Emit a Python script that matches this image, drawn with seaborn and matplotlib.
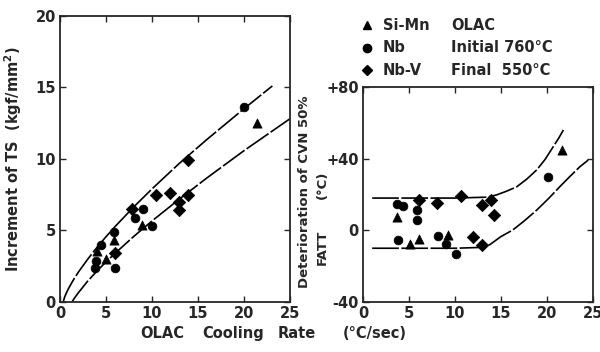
import pandas as pd
import matplotlib
matplotlib.use('Agg')
import matplotlib.pyplot as plt
import seaborn as sns

sns.set_style("ticks")
plt.rcParams['font.family'] = ['DejaVu Sans']

# Left panel: increment of TS vs cooling rate
ts_circle_x = [3.8, 3.9, 4.5, 5.9, 6.0, 8.2, 9.0, 10.0, 20.0]
ts_circle_y = [2.35, 2.9, 4.0, 4.9, 2.4, 5.85, 6.5, 5.3, 13.6]
ts_tri_x = [4.0, 5.0, 5.9, 8.9, 21.4]
ts_tri_y = [3.6, 3.0, 4.3, 5.4, 12.5]
ts_dia_x = [7.8, 6.0, 10.4, 12.0, 12.9, 13.0, 13.9, 13.9]
ts_dia_y = [6.5, 3.4, 7.5, 7.6, 7.0, 6.4, 9.9, 7.5]

# band curves
ts_up_x = [0.35, 0.5, 0.7, 1.0, 1.5, 2, 3, 4, 5, 6, 8, 10, 13, 16, 20, 23.1]
ts_up_y = [0.0, 0.34, 0.65, 1.03, 1.59, 2.09, 2.98, 3.8, 4.56, 5.28, 6.63, 7.9, 9.7,
           11.37, 13.5, 15.1]
ts_lo_x = [1.3, 1.6, 2, 2.5, 3, 4, 5, 6, 8, 10, 13, 16, 20, 25]
ts_lo_y = [0.0, 0.3, 0.65, 1.05, 1.45, 2.15, 2.8, 3.41, 4.57, 5.66, 7.2, 8.68, 10.57, 12.8]

# Right panel: deterioration of FATT
ft_circle_x = [3.7, 4.35, 5.87, 5.87, 3.84, 8.2, 9.0, 10.1, 20.1]
ft_circle_y = [14.9, 13.8, 11.2, 5.6, -5.6, -3.0, -7.5, -13.0, 29.6]
ft_tri_x = [3.7, 5.1, 6.1, 9.2, 21.6]
ft_tri_y = [7.5, -7.6, -4.8, -2.8, 44.7]
ft_dia_x = [6.05, 8.1, 10.7, 13.0, 13.9, 14.2, 12.0, 13.0]
ft_dia_y = [17.1, 15.3, 19.4, 14.0, 17.1, 8.4, -3.9, -8.0]

ft_up_x = [1.0, 5, 10, 13.5, 14.5, 15.6, 16.7, 17.8, 18.9, 19.8, 20.7, 21.3, 21.8]
ft_up_y = [18, 18, 18, 18.5, 19.7, 21.8, 24.2, 28.5, 33.7, 39.5, 46.7, 51.5, 56]
ft_lo_x = [1.0, 5, 10, 13.0, 13.8, 15.0, 16.3, 17.6, 18.9, 20.2, 21.4, 22.5, 23.6, 24.5]
ft_lo_y = [-10, -10, -10, -9.5, -8, -3.5, 0.2, 5.5, 11.3, 17.8, 24.3, 30, 35.5, 39.2]

steels = ['Si-Mn', 'Nb', 'Nb-V']
markers = {'Si-Mn': '^', 'Nb': 'o', 'Nb-V': 'D'}
sizes = {'Si-Mn': 44, 'Nb': 40, 'Nb-V': 40}


def make_df(cx, cy, tx, ty, dx, dy):
    rows = []
    for x, y in zip(tx, ty):
        rows.append(('Si-Mn', x, y))
    for x, y in zip(cx, cy):
        rows.append(('Nb', x, y))
    for x, y in zip(dx, dy):
        rows.append(('Nb-V', x, y))
    return pd.DataFrame(rows, columns=['steel', 'rate', 'value'])


ts_df = make_df(ts_circle_x, ts_circle_y, ts_tri_x, ts_tri_y, ts_dia_x, ts_dia_y)
ft_df = make_df(ft_circle_x, ft_circle_y, ft_tri_x, ft_tri_y, ft_dia_x, ft_dia_y)

fig = plt.figure(figsize=(6.0, 3.52), dpi=100)
ax1 = fig.add_axes([0.1, 0.142, 0.383, 0.813])
ax2 = fig.add_axes([0.605, 0.142, 0.383, 0.611])

FS = 10.5
FW = 'bold'
DASH = (16, 1.5)


def draw_points(ax, df):
    for s in steels:
        sub = df[df['steel'] == s]
        sns.scatterplot(data=sub, x='rate', y='value', marker=markers[s], s=sizes[s],
                        color='black', edgecolor='black', linewidth=0.5, ax=ax, legend=False)


def draw_curve(ax, xs, ys):
    sns.lineplot(x=xs, y=ys, sort=False, color='black', linewidth=1.2,
                 dashes=False, ax=ax, estimator=None).lines[-1].set_dashes(DASH)


def style_axes(ax):
    ax.tick_params(direction='in', top=True, right=True, length=4, width=1.0,
                   labelsize=FS, pad=3)
    for lab in ax.get_xticklabels() + ax.get_yticklabels():
        lab.set_fontweight(FW)
    for sp in ax.spines.values():
        sp.set_linewidth(1.3)
        sp.set_visible(True)
    ax.set_xlabel('')
    ax.set_ylabel('')


# left panel
draw_curve(ax1, ts_up_x, ts_up_y)
draw_curve(ax1, ts_lo_x, ts_lo_y)
draw_points(ax1, ts_df)
ax1.set_xlim(0, 25)
ax1.set_ylim(0, 20)
ax1.set_xticks([0, 5, 10, 15, 20, 25])
ax1.set_yticks([0, 5, 10, 15, 20])
style_axes(ax1)
ax1.set_ylabel('Increment of TS  (kgf/mm$^\\mathbf{2}$)', fontsize=FS, fontweight=FW,
               labelpad=8)

# right panel
draw_curve(ax2, ft_up_x, ft_up_y)
draw_curve(ax2, ft_lo_x, ft_lo_y)
draw_points(ax2, ft_df)
ax2.set_xlim(0, 25)
ax2.set_ylim(-40, 80)
ax2.set_xticks([0, 5, 10, 15, 20, 25])
ax2.set_yticks([-40, 0, 40, 80])
ax2.set_yticklabels(['-40', '0', '+40', '+80'])
style_axes(ax2)

# right y label, two rotated lines
fig.text(305 / 600, 1 - 192 / 352, 'Deterioration of CVN 50%', rotation=90,
         fontsize=9.5, fontweight=FW, ha='center', va='center')
fig.text(322 / 600, 1 - 247 / 352, 'FATT', rotation=90,
         fontsize=9.5, fontweight=FW, ha='center', va='center')
fig.text(322 / 600, 1 - 185 / 352, '(\u00b0C)', rotation=90,
         fontsize=9.5, fontweight=FW, ha='center', va='center')

# legend block
legend_rows = [('Si-Mn', 'OLAC'), ('Nb', 'Initial 760\u00b0C'), ('Nb-V', 'Final  550\u00b0C')]
for i, (s, note) in enumerate(legend_rows):
    yy = 0.928 - i * 0.064
    fig.lines.append(plt.Line2D([0.612], [yy], marker=markers[s], color='black',
                                markersize=6 if s != 'Nb-V' else 5.5, linestyle='',
                                transform=fig.transFigure))
    fig.text(0.638, yy, s, fontsize=FS, fontweight=FW, va='center', ha='left')
    fig.text(0.752, yy, note, fontsize=FS, fontweight=FW, va='center', ha='left')

# shared x label
xlabel_words = ['OLAC', 'Cooling', 'Rate', '(\u00b0C/sec)']
xlabel_pos = [0.233, 0.337, 0.462, 0.572]
for w, xp in zip(xlabel_words, xlabel_pos):
    fig.text(xp, 0.052, w, fontsize=FS, fontweight=FW, va='center', ha='left')

fig.savefig('out.png', dpi=100)
